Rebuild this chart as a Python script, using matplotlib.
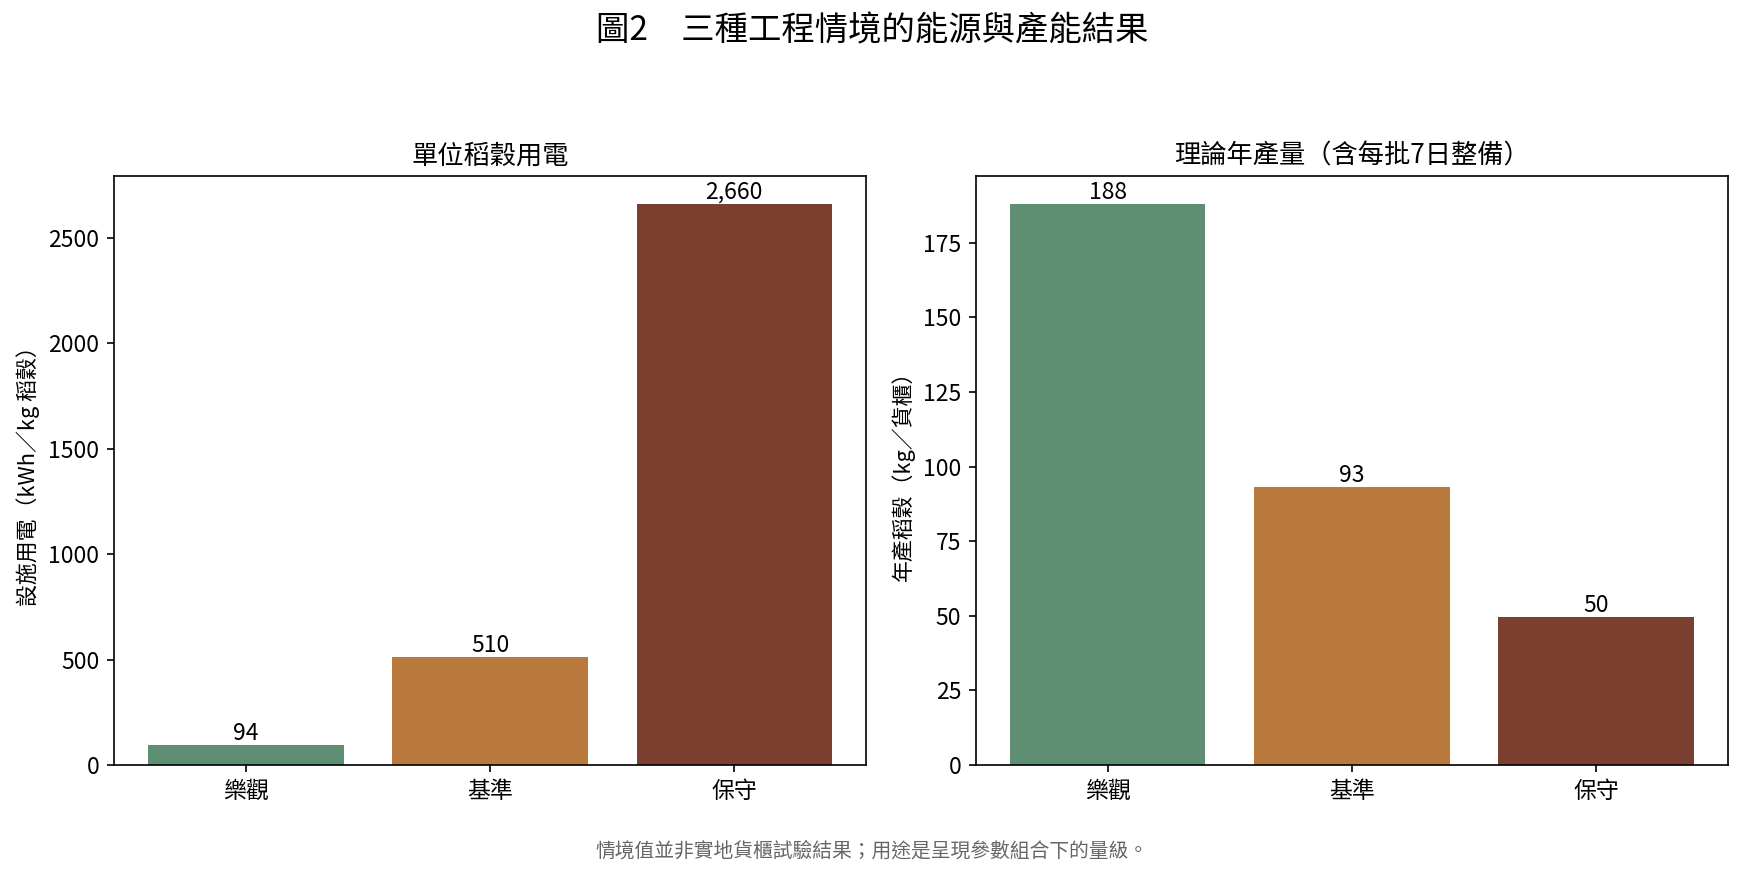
import matplotlib
matplotlib.use("Agg")
import matplotlib.pyplot as plt

plt.rcParams['font.family'] = ['Noto Sans CJK TC', 'DejaVu Sans']

scenarios = ["樂觀", "基準", "保守"]
energy_per_kg = [94, 510, 2660]
annual_output = [188, 93, 49.6]
colors = ["#5E8F73", "#BA7A3E", "#7A3F2E"]

suptitle = "圖2　三種工程情境的能源與產能結果"
left_title = "單位稻穀用電"
right_title = "理論年產量（含每批7日整備）"
left_ylabel = "設施用電（kWh／kg 稻穀）"
right_ylabel = "年產稻穀（kg／貨櫃）"
footnote = "情境值並非實地貨櫃試驗結果；用途是呈現參數組合下的量級。"

fig, axes = plt.subplots(1, 2, figsize=(1744/150, 875/150), dpi=150)
fig.subplots_adjust(left=0.0654, right=0.9908, bottom=0.1257, top=0.7989, wspace=0.146)

for ax, vals, title, ylabel in zip(axes, [energy_per_kg, annual_output],
                                   [left_title, right_title], [left_ylabel, right_ylabel]):
    bars = ax.bar(scenarios, vals, color=colors, width=0.8)
    ax.bar_label(bars, labels=[f"{v:,.0f}" for v in vals], padding=0, fontsize=11)
    ax.set_title(title, fontsize=12.6, pad=6)
    ax.set_ylabel(ylabel, fontsize=10.5)
    ax.tick_params(labelsize=11)
    ax.set_ylim(0, max(vals) * 1.05)

fig.suptitle(suptitle, fontsize=16, y=0.985)
fig.text(0.5, 0.027, footnote, ha='center', va='center', fontsize=9.5, color='#666666')

fig.savefig("out.png", dpi=150)
